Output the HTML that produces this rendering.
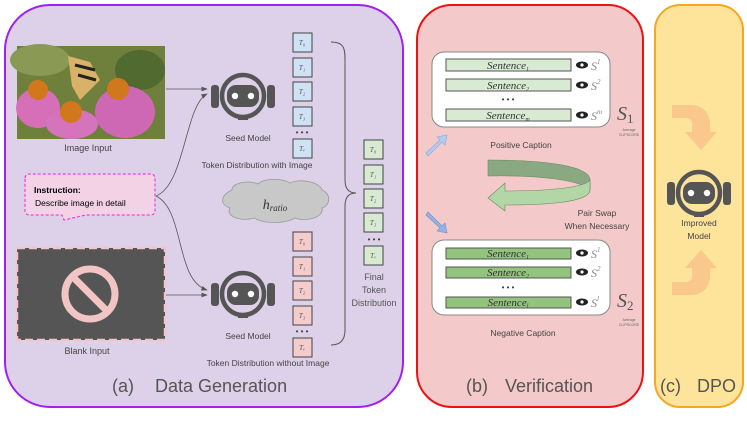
<!DOCTYPE html>
<html><head><meta charset="utf-8"><style>
body{margin:0;background:#fff}
svg{display:block;font-family:"Liberation Sans",sans-serif}
.s{font-family:"Liberation Serif",serif;font-style:italic}
</style></head><body>
<svg width="747" height="421" viewBox="0 0 747 421" xmlns="http://www.w3.org/2000/svg">
<defs>
<g id="robot">
<rect x="-32" y="-11" width="8" height="23" rx="3" fill="#555"/>
<rect x="24" y="-11" width="8" height="23" rx="3" fill="#555"/>
<circle cx="0" cy="0" r="21" fill="none" stroke="#555" stroke-width="4.5"/>
<rect x="-16" y="-11" width="32" height="22" rx="9" fill="#555"/>
<circle cx="-8" cy="0" r="3.2" fill="#fff"/>
<circle cx="8" cy="0" r="3.2" fill="#fff"/>
<rect x="-5" y="20" width="10" height="4" fill="#555"/>
</g>
<marker id="ah" markerWidth="8" markerHeight="6" refX="7" refY="3" orient="auto"><path d="M0,0 L8,3 L0,6z" fill="#555"/></marker>
</defs>
<!-- Panel a -->
<rect x="5" y="5" width="398" height="402" rx="45" fill="#dcd1e8" stroke="#a020f0" stroke-width="2"/>
<!-- image -->
<rect x="17" y="46" width="148" height="93" fill="#6f7f3c"/>
<ellipse cx="40" cy="60" rx="30" ry="16" fill="#8a9a55"/>
<ellipse cx="140" cy="70" rx="25" ry="20" fill="#506a30"/>
<ellipse cx="38" cy="108" rx="22" ry="20" fill="#d66fb8"/>
<ellipse cx="72" cy="124" rx="26" ry="15" fill="#d673bd"/>
<ellipse cx="125" cy="112" rx="30" ry="26" fill="#cf68b4"/>
<circle cx="38" cy="90" r="10" fill="#d2781c"/>
<circle cx="71" cy="112" r="11" fill="#d2781c"/>
<circle cx="118" cy="89" r="11" fill="#d2781c"/>
<path d="M68,56 L90,62 L100,80 L80,100 L72,86z" fill="#d9b26a"/>
<path d="M75,65 L95,70 M78,75 L96,80" stroke="#222" stroke-width="3"/>
<text x="88" y="151" font-size="9" fill="#444" text-anchor="middle">Image Input</text>
<!-- instruction -->
<path d="M25,178 a4,4 0 0 1 4,-4 h122 a4,4 0 0 1 4,4 v33 a4,4 0 0 1 -4,4 h-65 l-22,5 l-2,-5 h-33 a4,4 0 0 1 -4,-4z" fill="#f2d2e4" stroke="#ee22dd" stroke-dasharray="3,2" stroke-width="1"/>
<text x="34" y="193" font-size="8.5" font-weight="bold" fill="#000">Instruction:</text>
<text x="35" y="206" font-size="8.5" fill="#000">Describe image in detail</text>
<!-- blank -->
<rect x="17" y="248" width="148" height="92" fill="#555" stroke="#f2c4c4" stroke-width="2.5" stroke-dasharray="8,4"/>
<circle cx="90" cy="294" r="25" fill="none" stroke="#f2c4c4" stroke-width="7"/>
<line x1="74" y1="278" x2="106" y2="310" stroke="#f2c4c4" stroke-width="7"/>
<text x="87" y="354" font-size="9" fill="#444" text-anchor="middle">Blank Input</text>
<!-- connectors -->
<line x1="166" y1="89" x2="207" y2="89" stroke="#555" stroke-width="0.8" marker-end="url(#ah)"/>
<line x1="166" y1="295" x2="207" y2="295" stroke="#555" stroke-width="0.8" marker-end="url(#ah)"/>
<path d="M156,196 C185,185 185,105 207,94" fill="none" stroke="#555" stroke-width="0.8" marker-end="url(#ah)"/>
<path d="M156,196 C185,210 175,280 207,290" fill="none" stroke="#555" stroke-width="0.8" marker-end="url(#ah)"/>
<use href="#robot" x="243" y="96"/>
<use href="#robot" x="243" y="294"/>
<text x="248" y="141" font-size="8.5" fill="#444" text-anchor="middle">Seed Model</text>
<text x="248" y="339" font-size="8.5" fill="#444" text-anchor="middle">Seed Model</text>
<text x="257" y="168" font-size="8.5" fill="#444" text-anchor="middle">Token Distribution with Image</text>
<text x="268" y="366" font-size="8.5" fill="#444" text-anchor="middle">Token Distribution without Image</text>
<!-- tokens -->
<g stroke="#444" stroke-width="1">
<g fill="#cfe2f3">
<rect x="293" y="33" width="19" height="19"/><rect x="293" y="58" width="19" height="19"/><rect x="293" y="82" width="19" height="19"/><rect x="293" y="107" width="19" height="19"/><rect x="293" y="139" width="19" height="19"/></g>
<g fill="#f4cccc">
<rect x="293" y="232" width="19" height="19"/><rect x="293" y="257" width="19" height="19"/><rect x="293" y="281" width="19" height="19"/><rect x="293" y="306" width="19" height="19"/><rect x="293" y="338" width="19" height="19"/></g>
<g fill="#d9ead3">
<rect x="364" y="140" width="19" height="19"/><rect x="364" y="165" width="19" height="19"/><rect x="364" y="189" width="19" height="19"/><rect x="364" y="213" width="19" height="19"/><rect x="364" y="246" width="19" height="19"/></g>
</g>
<g font-size="7" class="s" fill="#555" text-anchor="middle">
<text x="302" y="45">T₀</text><text x="302" y="70">T₁</text><text x="302" y="94">T₂</text><text x="302" y="119">T₃</text><text x="302" y="151">Tᵥ</text>
<text x="302" y="244">T₀</text><text x="302" y="269">T₁</text><text x="302" y="293">T₂</text><text x="302" y="318">T₃</text><text x="302" y="350">Tᵥ</text>
<text x="373" y="152">T₀</text><text x="373" y="177">T₁</text><text x="373" y="201">T₂</text><text x="373" y="225">T₃</text><text x="373" y="258">Tᵥ</text>
</g>
<g fill="#444" font-size="8" text-anchor="middle"><text x="302" y="135">• • •</text><text x="302" y="334">• • •</text><text x="374" y="242">• • •</text></g>
<path d="M331,42 C345,42 345,50 345,60 V180 C345,190 350,193 356,193 C350,193 345,196 345,206 V330 C345,340 340,345 331,345" fill="none" stroke="#555" stroke-width="1"/>
<g font-size="9" fill="#555" text-anchor="middle"><text x="374" y="280">Final</text><text x="374" y="293">Token</text><text x="374" y="306">Distribution</text></g>
<!-- cloud -->
<path d="M232,190 C232,182 250,180 258,184 C264,178 282,178 290,183 C300,178 320,182 322,190 C332,194 330,206 322,208 C324,218 305,222 295,218 C285,224 262,224 255,218 C240,222 225,216 230,208 C218,204 222,194 232,190z" fill="#c8c8c8" stroke="#999" stroke-width="0.8"/>
<text x="275" y="209" font-size="14" class="s" fill="#333" text-anchor="middle">h<tspan font-size="9" dy="2">ratio</tspan></text>
<text x="112" y="392" font-size="18" fill="#555">(a)</text>
<text x="155" y="392" font-size="18" fill="#555">Data Generation</text>
<!-- Panel b -->
<rect x="417" y="5" width="226" height="402" rx="35" fill="#f3c9c9" stroke="#ee1111" stroke-width="2"/>
<rect x="432" y="52" width="178" height="75" rx="12" fill="#fff" stroke="#888" stroke-width="1"/>
<rect x="432" y="240" width="178" height="75" rx="12" fill="#fff" stroke="#888" stroke-width="1"/>
<g stroke="#555" stroke-width="1">
<g fill="#d9ead3"><rect x="446" y="59" width="125" height="12"/><rect x="446" y="79" width="125" height="12"/><rect x="446" y="109" width="125" height="12"/></g>
<g fill="#93c47d"><rect x="446" y="248" width="125" height="11"/><rect x="446" y="267" width="125" height="11"/><rect x="446" y="297" width="125" height="11"/></g>
</g>
<g class="s" font-size="11" fill="#333" text-anchor="middle">
<text x="508" y="69">Sentence<tspan font-size="6" dy="2">1</tspan></text>
<text x="508" y="89">Sentence<tspan font-size="6" dy="2">2</tspan></text>
<text x="508" y="119">Sentence<tspan font-size="6" dy="2">m</tspan></text>
<text x="508" y="257">Sentence<tspan font-size="6" dy="2">1</tspan></text>
<text x="508" y="276">Sentence<tspan font-size="6" dy="2">2</tspan></text>
<text x="508" y="306">Sentence<tspan font-size="6" dy="2">l</tspan></text>
</g>
<g fill="#444" font-size="8" text-anchor="middle"><text x="508" y="102">• • •</text><text x="508" y="290">• • •</text></g>
<g fill="#222"><g id="eye"><ellipse cx="582" cy="65" rx="6" ry="3.5"/><circle cx="582" cy="65" r="1.6" fill="#fff"/></g>
<use href="#eye" y="20"/><use href="#eye" y="50"/><use href="#eye" y="188"/><use href="#eye" y="207"/><use href="#eye" y="237"/></g>
<g class="s" font-size="12" fill="#888">
<text x="591" y="70">S<tspan font-size="7" dy="-6">1</tspan></text>
<text x="591" y="90">S<tspan font-size="7" dy="-6">2</tspan></text>
<text x="591" y="120">S<tspan font-size="7" dy="-6">m</tspan></text>
<text x="591" y="258">S<tspan font-size="7" dy="-6">1</tspan></text>
<text x="591" y="277">S<tspan font-size="7" dy="-6">2</tspan></text>
<text x="591" y="307">S<tspan font-size="7" dy="-6">l</tspan></text>
</g>
<text x="617" y="120" class="s" font-size="20" fill="#555">S<tspan font-size="13" dy="3" font-style="normal">1</tspan></text>
<text x="617" y="307" class="s" font-size="20" fill="#555">S<tspan font-size="13" dy="3" font-style="normal">2</tspan></text>
<g font-size="3.5" fill="#666" text-anchor="middle"><text x="629" y="131">Average</text><text x="629" y="136">CLIPSCORE</text><text x="629" y="321">Average</text><text x="629" y="326">CLIPSCORE</text></g>
<text x="521" y="148" font-size="8.5" fill="#444" text-anchor="middle">Positive Caption</text>
<text x="523" y="336" font-size="8.5" fill="#444" text-anchor="middle">Negative Caption</text>
<path d="M426,153 L440,140 L437,137 L447,135 L445,145 L442,142 L428,156z" fill="#b4ccf0" stroke="#8aa6d6" stroke-width="0.6"/>
<path d="M426,215 L440,228 L437,231 L447,233 L445,223 L442,226 L428,212z" fill="#93b3e6" stroke="#7090c8" stroke-width="0.6"/>
<!-- swap arrow -->
<path d="M488,160 C540,160 590,165 590,180 L590,190 C580,180 540,175 488,176z" fill="#8aa882" stroke="#6a8a62" stroke-width="0.6"/>
<path d="M590,190 C590,200 560,205 505,205 L505,211 L488,198 L505,183 L505,191 C545,191 585,188 590,180z" fill="#b2d6a6" stroke="#6a8a62" stroke-width="0.6"/>
<g font-size="8.5" fill="#444" text-anchor="middle"><text x="597" y="216">Pair Swap</text><text x="597" y="229">When Necessary</text></g>
<text x="466" y="392" font-size="18" fill="#555">(b)</text>
<text x="505" y="392" font-size="18" fill="#555">Verification</text>
<!-- Panel c -->
<rect x="655" y="5" width="88" height="402" rx="25" fill="#fee39a" stroke="#f5a623" stroke-width="2"/>
<path d="M672,105 H690 C702,105 710,112 710,125 V132 H717 L701,150 L685,132 H692 V125 C692,120 690,118 686,118 H672z" fill="#f9c28a" opacity="0.85"/>
<path d="M672,295 H690 C702,295 710,288 710,275 V268 H717 L701,250 L685,268 H692 V275 C692,280 690,282 686,282 H672z" fill="#f9c28a" opacity="0.85"/>
<use href="#robot" x="699" y="193"/>
<g font-size="8.5" fill="#444" text-anchor="middle"><text x="699" y="226">Improved</text><text x="699" y="239">Model</text></g>
<text x="660" y="392" font-size="18" fill="#555">(c)</text>
<text x="697" y="392" font-size="18" fill="#555">DPO</text>
</svg>
</body></html>
